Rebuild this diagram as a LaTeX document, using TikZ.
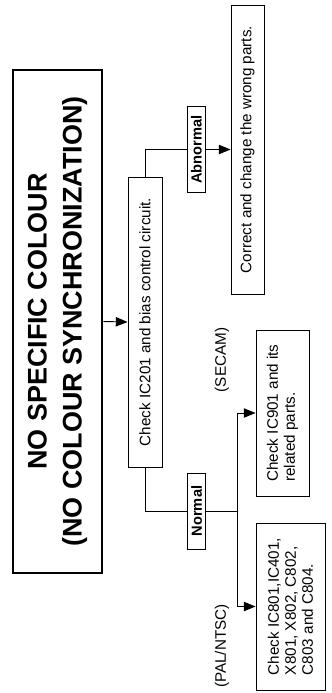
\documentclass[tikz,border=0pt]{standalone}
\usepackage{fontspec}
\setmainfont{Liberation Sans}
\usetikzlibrary{arrows.meta}
\tikzset{
  chkbox/.style={draw,line width=0.8pt,rotate=90,font=\fontsize{13}{14.5}\selectfont,align=left,inner sep=0pt},
  titlebox/.style={draw,line width=2.4pt,rotate=90,font=\fontsize{23}{30}\selectfont\bfseries,align=center,inner sep=0pt},
  branchtag/.style={draw,fill=white,line width=0.8pt,rotate=90,font=\fontsize{12.5}{14}\selectfont\bfseries,inner sep=0pt},
  systag/.style={rotate=90,font=\fontsize{13}{14}\selectfont,inner sep=0pt},
  link/.style={line width=0.8pt},
  linkarr/.style={link,-{Triangle[length=10pt,width=8pt]}},
}

\begin{document}
\begin{tikzpicture}[x=0.03cm,y=-0.03cm]
    \useasboundingbox (0,0) rectangle (331,693);
    \node[titlebox,minimum width=15.09cm,minimum height=2.67cm] (title) at (57.5,321.5) {NO SPECIFIC COLOUR\\(NO COLOUR SYNCHRONIZATION)};
    \node[chkbox,minimum width=8.7cm,minimum height=1.02cm] (ic201) at (145,322) {Check IC201 and bias control circuit.};
    \node[chkbox,minimum width=8.67cm,minimum height=0.99cm] (fix) at (247.5,149.5) {Correct and change the wrong parts.};
    \node[chkbox,minimum width=4.98cm,minimum height=1.59cm] (secam) at (282.5,413) {Check IC901 and its\\related parts.};
    \node[chkbox,minimum width=5.01cm,minimum height=2.07cm] (pal) at (290.5,606.5) {Check IC801,IC401,\\X801, X802, C802,\\C803 and C804.};
    \node[systag] (secamtag) at (222,360) {(SECAM)};
    \node[systag] (paltag) at (222,646) {(PAL/NTSC)};
    \coordinate (split) at (237,511);
    \draw[linkarr] (title.south) -- (ic201.north);
    \draw[linkarr] (ic201.east) |- node[branchtag,pos=0.8,minimum width=2.58cm,minimum height=0.54cm] (abn) {Abnormal} (fix.north);
    \draw[link] (ic201.west) |- node[branchtag,pos=0.78,minimum width=2.28cm,minimum height=0.54cm] (nrm) {Normal} (split);
    \draw[linkarr] (split) |- (secam.north);
    \draw[linkarr] (split) |- (pal.north);
\end{tikzpicture}
\end{document}
